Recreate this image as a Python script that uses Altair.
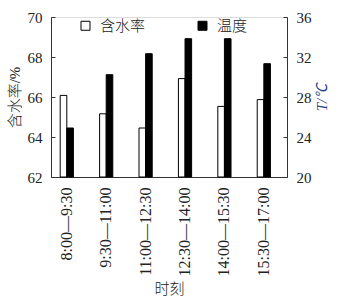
import altair as alt
import pandas as pd

times = ["8:00—9:30", "9:30—11:00", "11:00—12:30", "12:30—14:00", "14:00—15:30", "15:30—17:00"]
water = [66.08, 65.16, 64.45, 66.92, 65.53, 65.87]
temp = [24.9, 30.23, 32.33, 33.83, 33.83, 31.33]
series = ["含水率", "温度"]

FONT = "Liberation Serif, Noto Sans CJK SC"

df_w = pd.DataFrame({"time": times, "series": series[0], "value": water})
df_t = pd.DataFrame({"time": times, "series": series[1], "value": temp})

x_enc = alt.X("time:N", sort=times, title="时刻",
              scale=alt.Scale(paddingInner=0.665, paddingOuter=0.327, align=0.357),
              axis=alt.Axis(labelAngle=-90, ticks=False, labelPadding=10, labelFontSize=16,
                            titleFontSize=15, titlePadding=6, domainColor="#333",
                            titleFontWeight=300))
xo = alt.XOffset("series:N", scale=alt.Scale(domain=series))
fill = alt.Fill("series:N", scale=alt.Scale(domain=series, range=["white", "black"]),
                legend=alt.Legend(title=None, orient="none", direction="horizontal",
                                  legendX=27, legendY=1, symbolType="square", symbolSize=81,
                                  symbolStrokeColor="black", symbolStrokeWidth=1,
                                  labelOffset=7, columnPadding=49, labelFontSize=15,
                                  labelFontWeight=300, padding=0))

axis_common = dict(ticks=False, grid=True, gridDash=[4, 400], gridColor="#333", gridWidth=1,
                   labelPadding=9, labelFontSize=15, titleFontSize=15, domainColor="#333")

left = alt.Chart(df_w).mark_bar(stroke="black", strokeWidth=1).encode(
    x=x_enc,
    xOffset=xo,
    y=alt.Y("value:Q", title="含水率/%",
            scale=alt.Scale(domain=[62, 70], zero=False, nice=False),
            axis=alt.Axis(values=[62, 64, 66, 68, 70], titlePadding=5, titleFontWeight=300,
                          **axis_common)),
    y2=alt.datum(62),
    fill=fill,
)

right = alt.Chart(df_t).mark_bar(stroke="black", strokeWidth=1).encode(
    x=x_enc,
    xOffset=xo,
    y=alt.Y("value:Q", title="T/℃",
            scale=alt.Scale(domain=[20, 36], zero=False, nice=False),
            axis=alt.Axis(orient="right", values=[20, 24, 28, 32, 36], titleAngle=270,
                          titleFontStyle="italic", titleColor="#27408b", titlePadding=18,
                          titleFontWeight="normal", **axis_common)),
    y2=alt.datum(20),
    fill=fill,
)

chart = alt.layer(left, right).resolve_scale(y="independent").properties(
    width=236, height=160,
    autosize=alt.AutoSizeParams(type="none"),
    padding={"left": 51, "top": 17, "right": 64, "bottom": 124},
).configure_view(stroke=None).configure(font=FONT).configure_axis(
    labelColor="#222", titleColor="#222", labelFont=FONT, titleFont=FONT,
).configure_legend(labelFont=FONT, labelColor="#222")

chart.save("out.html", embed_options={"renderer": "svg", "actions": False})
